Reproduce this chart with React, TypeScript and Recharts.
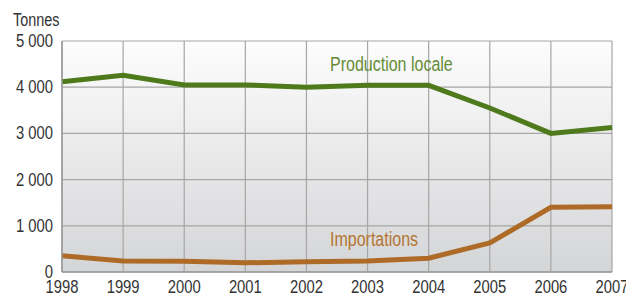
import React from 'react';
import {
  LineChart,
  Line,
  XAxis,
  YAxis,
  CartesianGrid,
} from 'recharts';

const years = [1998, 1999, 2000, 2001, 2002, 2003, 2004, 2005, 2006, 2007];
const productionLocale = [4120, 4260, 4050, 4050, 4000, 4040, 4040, 3550, 3000, 3130];
const importations = [350, 240, 230, 200, 220, 240, 300, 630, 1400, 1410];
const yTicks = [0, 1000, 2000, 3000, 4000, 5000];

const data = years.map((year, i) => ({
  year,
  production: productionLocale[i],
  imports: importations[i],
}));

const FONT = '"Liberation Sans", Arial, sans-serif';

const fmt = (v: number) => (v === 0 ? '0' : `${Math.floor(v / 1000)} ${String(v % 1000).padStart(3, '0')}`);

// condensed-looking ticks: squeeze the glyphs horizontally
const YTick = ({ x, y, payload }: any) => (
  <g transform={`translate(${x},${y})`}>
    <text transform="scale(0.8,1)" textAnchor="end" dy={6} fontSize={18.5} fontFamily={FONT} fill="#333">
      {fmt(payload.value)}
    </text>
  </g>
);

const XTick = ({ x, y, payload }: any) => (
  <g transform={`translate(${x},${y})`}>
    <text transform="scale(0.8,1)" textAnchor="middle" dy={13} fontSize={18.5} fontFamily={FONT} fill="#333">
      {payload.value}
    </text>
  </g>
);

const labelStyle = (left: number, top: number, size: number, color: string): React.CSSProperties => ({
  position: 'absolute',
  left,
  top,
  fontSize: size,
  color,
  fontFamily: FONT,
  lineHeight: 1,
  whiteSpace: 'nowrap',
  transform: 'scaleX(0.8)',
  transformOrigin: 'left top',
});

export default function App() {
  return (
    <div style={{ position: 'fixed', left: 0, top: 0, width: 626, height: 295, background: '#fff', overflow: 'hidden' }}>
      <LineChart
        width={626}
        height={295}
        data={data}
        margin={{ top: 41, right: 14, left: 0, bottom: 0 }}
      >
        <defs>
          <linearGradient id="bg" x1="0" y1="0" x2="0" y2="1">
            <stop offset="0%" stopColor="#fdfdfd" />
            <stop offset="100%" stopColor="#d4d5d7" />
          </linearGradient>
        </defs>
        <CartesianGrid
          stroke="#a6a6a6"
          strokeWidth={1.2}
          fill="url(#bg)"
          fillOpacity={1}
          horizontalValues={yTicks}
        />
        <XAxis
          dataKey="year"
          height={23}
          tickLine={false}
          axisLine={{ stroke: '#9a9a9a', strokeWidth: 1.5 }}
          tick={<XTick />}
          tickMargin={2}
          interval={0}
        />
        <YAxis
          width={62}
          domain={[0, 5000]}
          ticks={yTicks}
          tickLine={false}
          axisLine={{ stroke: '#9a9a9a', strokeWidth: 1.5 }}
          tick={<YTick />}
          tickMargin={3}
        />
        <Line
          type="linear"
          dataKey="production"
          stroke="#4e7a1c"
          strokeWidth={5}
          dot={false}
          isAnimationActive={false}
        />
        <Line
          type="linear"
          dataKey="imports"
          stroke="#ad6b27"
          strokeWidth={5}
          dot={false}
          isAnimationActive={false}
        />
      </LineChart>
      <div style={labelStyle(13, 11, 18, '#333')}>Tonnes</div>
      <div style={labelStyle(330, 54, 20, '#648c36')}>Production locale</div>
      <div style={labelStyle(330, 229, 20, '#b47532')}>Importations</div>
    </div>
  );
}
